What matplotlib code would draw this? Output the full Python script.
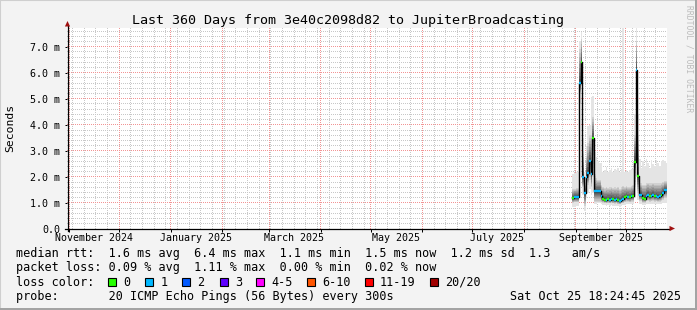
import matplotlib
matplotlib.use("Agg")
import matplotlib.pyplot as plt
import matplotlib.dates as mdates
from matplotlib.ticker import MultipleLocator
from matplotlib.patches import Rectangle, Polygon
from matplotlib.lines import Line2D
from matplotlib.colors import to_rgb
import numpy as np
from datetime import datetime, timedelta

plt.rcParams['font.family'] = ['DejaVu Sans Mono']

# ---------------- data ----------------
title = "Last 360 Days from 3e40c2098d82 to JupiterBroadcasting"
end_time = datetime(2025, 10, 25, 18, 24, 45)
span_days = 360
data_start = datetime(2025, 8, 30, 0, 0)   # first daily sample

median_ms = [1.20, 1.22, 1.22, 1.22, 5.60, 6.40, 2.00, 1.38, 2.00, 2.14,
             2.61, 2.10, 3.49, 1.44, 1.44, 1.44, 1.44, 1.25, 1.17, 1.12,
             1.10, 1.15, 1.13, 1.17, 1.14, 1.12, 1.15, 1.10, 1.08, 1.12,
             1.15, 1.22, 1.25, 1.23, 1.22, 1.25, 1.25, 2.57, 6.09, 2.02,
             1.32, 1.32, 1.18, 1.17, 1.27, 1.30, 1.25, 1.28, 1.30, 1.25,
             1.27, 1.24, 1.25, 1.30, 1.38, 1.50, 1.48]
smoke_min_ms = [0.85, 0.85, 0.88, 0.90, 4.80, 5.50, 1.30, 0.70, 1.20, 1.40,
                1.55, 1.30, 1.40, 0.95, 0.95, 0.98, 0.98, 0.95, 0.92, 0.92,
                0.90, 0.92, 0.90, 0.92, 0.90, 0.88, 0.90, 0.88, 0.86, 0.90,
                0.92, 0.92, 0.95, 0.95, 0.95, 0.95, 0.95, 1.20, 2.50, 1.10,
                0.95, 0.95, 0.92, 0.92, 0.95, 0.95, 0.95, 0.95, 0.95, 0.95,
                0.95, 0.95, 0.95, 0.95, 0.98, 1.00, 1.00]
smoke_p10_ms = [1.00, 1.02, 1.02, 1.02, 5.20, 5.90, 1.60, 0.90, 1.50, 1.70,
                1.90, 1.60, 2.00, 1.05, 1.05, 1.05, 1.05, 1.02, 1.00, 1.00,
                0.98, 1.00, 0.98, 1.00, 0.98, 0.97, 0.98, 0.96, 0.95, 0.98,
                1.00, 1.02, 1.05, 1.04, 1.03, 1.05, 1.05, 1.60, 3.50, 1.40,
                1.08, 1.08, 1.00, 1.00, 1.06, 1.08, 1.05, 1.06, 1.08, 1.05,
                1.06, 1.04, 1.05, 1.08, 1.12, 1.20, 1.20]
smoke_p90_ms = [1.55, 1.55, 1.58, 1.58, 6.90, 7.30, 3.00, 1.80, 2.80, 3.30,
                3.60, 3.60, 4.30, 2.10, 1.95, 1.90, 1.90, 1.70, 1.62, 1.58,
                1.62, 1.58, 1.60, 1.62, 1.58, 1.60, 1.58, 1.62, 1.55, 1.60,
                1.65, 1.62, 1.65, 1.62, 1.62, 1.65, 1.68, 3.60, 7.20, 3.60,
                1.75, 1.75, 1.70, 1.70, 1.75, 1.78, 1.75, 1.75, 1.78, 1.75,
                1.75, 1.75, 1.75, 1.78, 1.80, 1.85, 1.85]
smoke_max_ms = [2.10, 2.15, 2.20, 2.20, 7.20, 7.55, 3.50, 2.20, 3.20, 3.95,
                4.00, 5.05, 5.10, 2.95, 2.75, 2.60, 2.55, 2.55, 2.20, 2.25,
                2.38, 2.20, 2.25, 2.35, 2.20, 2.30, 2.25, 2.35, 2.20, 2.30,
                7.70, 2.20, 2.25, 2.20, 2.25, 2.30, 2.30, 4.40, 7.70, 4.40,
                2.70, 2.35, 2.60, 2.40, 2.70, 2.55, 2.35, 2.65, 2.50, 2.40,
                2.65, 2.55, 2.40, 2.60, 2.65, 2.60, 2.55]
loss_class = [0, 1, 1, 1, 1, 0, 1, 1, 1, 1,
              1, 1, 0, 1, 1, 1, 1, 1, 0, 0,
              1, 0, 1, 1, 0, 1, 1, 0, 1, 1,
              1, 0, 0, 1, 0, 1, 0, 0, 1, 0,
              1, 1, 0, 0, 1, 1, 0, 1, 1, 0,
              1, 1, 1, 0, 1, 1, 1]

y_ticks = [0, 1, 2, 3, 4, 5, 6, 7]
y_tick_labels = ["0.0", "1.0 m", "2.0 m", "3.0 m", "4.0 m", "5.0 m", "6.0 m", "7.0 m"]
y_max = 7.716
month_labels = [(datetime(2024, 11, 1), "November 2024"), (datetime(2025, 1, 1), "January 2025"),
                (datetime(2025, 3, 1), "March 2025"), (datetime(2025, 5, 1), "May 2025"),
                (datetime(2025, 7, 1), "July 2025"), (datetime(2025, 9, 1), "September 2025")]

loss_names = ["0", "1", "2", "3", "4-5", "6-10", "11-19", "20/20"]
loss_colors = ["#26ff00", "#00b8ff", "#0059ff", "#5e00ff", "#ff00ff", "#ff5500", "#ff0000", "#a10000"]

legend_rows = [
    "median rtt:  1.6 ms avg  6.4 ms max  1.1 ms min  1.5 ms now  1.2 ms sd  1.3   am/s",
    "packet loss: 0.09 % avg  1.11 % max  0.00 % min  0.02 % now",
    "loss color:",
    "probe:       20 ICMP Echo Pings (56 Bytes) every 300s",
]
stamp = "Sat Oct 25 18:24:45 2025"
watermark = "RRDTOOL / TOBI OETIKER"

# ---------------- figure ----------------
W, H = 697, 310
fig = plt.figure(figsize=(W / 100, H / 100), dpi=100, facecolor="#f3f3f3")

AX_L, AX_B, AX_W, AX_H = 67, 229, 600, 201   # px, y from top
ax = fig.add_axes([AX_L / W, 1 - AX_B / H, AX_W / W, AX_H / H])
ax.set_facecolor("white")
start_time = end_time - timedelta(days=span_days)
ax.set_xlim(start_time, end_time)
ax.set_ylim(0, y_max)

ax.xaxis.set_major_locator(mdates.MonthLocator())
ax.xaxis.set_minor_locator(mdates.WeekdayLocator(byweekday=mdates.SU))
ax.yaxis.set_major_locator(MultipleLocator(1.0))
ax.yaxis.set_minor_locator(MultipleLocator(0.2))
MINOR_C, MAJOR_C = "#c8c8c8", "#f29494"

ax.set_yticks(y_ticks)
ax.set_yticklabels(y_tick_labels)
ax.xaxis.set_major_formatter(plt.NullFormatter())
ax.tick_params(axis="both", which="major", length=1.8, width=0.72, color="#000000",
               direction="out", pad=3.3, labelsize=7.2)
ax.tick_params(axis="both", which="minor", length=0)
for s in ax.spines.values():
    s.set_visible(False)

# ---- dotted 1-px grid, positions from the locators through the axes transform ----
x0, x1 = ax.get_xlim()
maj_x = [v for v in ax.xaxis.get_majorticklocs() if x0 < v < x1]
min_x = [v for v in ax.xaxis.get_minorticklocs() if x0 < v < x1 and
         all(abs(v - m) > 1e-6 for m in maj_x)]
maj_y = [v for v in y_ticks if 0 < v < y_max]
min_y = [v for v in ax.yaxis.get_minorticklocs() if 0 < v < y_max and
         all(abs(v - m) > 1e-6 for m in maj_y)]

grid = np.zeros((AX_H, AX_W, 4))
def col_of(v):
    xd = ax.transData.transform((v, 0))[0]
    return int(np.floor(xd)) - AX_L
def row_of(v):
    yd = ax.transData.transform((x0, v))[1]
    return int(np.floor(H - yd)) - (AX_B - AX_H)

def put_v(c, color):
    if 0 <= c < AX_W:
        grid[0::2, c, :3] = to_rgb(color)
        grid[0::2, c, 3] = 1
def put_h(r, color):
    if 0 <= r < AX_H:
        grid[r, 0::2, :3] = to_rgb(color)
        grid[r, 0::2, 3] = 1

for v in min_x:
    put_v(col_of(v), MINOR_C)
for v in min_y:
    put_h(row_of(v), MINOR_C)
for v in maj_x:
    put_v(col_of(v), MAJOR_C)
for v in maj_y:
    put_h(row_of(v), MAJOR_C)

ax.imshow(grid, extent=(0, 1, 0, 1), transform=ax.transAxes, interpolation="nearest",
          aspect="auto", zorder=1)
ax.set_xlim(start_time, end_time)
ax.set_ylim(0, y_max)

for d, lab in month_labels:
    ax.text(d + timedelta(days=15), -(240.7 - AX_B) / AX_H, lab, transform=ax.get_xaxis_transform(),
            ha="center", va="baseline", fontsize=7.2, color="#000000")

# smoke
n = len(median_ms)
edges = [data_start + timedelta(days=i) for i in range(n + 1)]
med = np.array(median_ms)
mn = np.array(smoke_min_ms)
p10 = np.array(smoke_p10_ms)
p90 = np.array(smoke_p90_ms)
mx = np.array(smoke_max_ms)

def ext(a):
    return np.append(a, a[-1])

ax.fill_between(edges, ext(mn), ext(mx), step="post", color="#e4e4e4", lw=0, zorder=2)
N = 9
for k in range(N, 0, -1):
    f = k / N
    lo = med - (med - p10) * f
    hi = med + (p90 - med) * f
    g = 0.30 + 0.52 * (k - 1) / (N - 1)
    ax.fill_between(edges, ext(lo), ext(hi), step="post", color=(g, g, g), lw=0, zorder=2)

# median
ax.step(edges, ext(med), where="post", color="black", lw=1.0, zorder=4)
for i in range(n):
    ax.plot([edges[i], edges[i + 1]], [med[i], med[i]], color=loss_colors[loss_class[i]],
            lw=1.7, solid_capstyle="butt", zorder=5)

# axes lines + arrows (in axes fraction)
def af(px, py):
    return ((px - AX_L) / AX_W, (AX_B - py) / AX_H)

for (p0, p1) in [((AX_L + 0.5, AX_B + 2), (AX_L + 0.5, 26)), ((AX_L - 2, AX_B - 0.5), (670, AX_B - 0.5))]:
    a0, a1 = af(*p0), af(*p1)
    ax.add_line(Line2D([a0[0], a1[0]], [a0[1], a1[1]], transform=ax.transAxes, color="#000000",
                       lw=0.9, clip_on=False, zorder=6))
ax.add_patch(Polygon([af(AX_L + 0.5, 21.0), af(AX_L - 2.1, 26.5), af(AX_L + 3.1, 26.5)], closed=True,
                     transform=ax.transAxes, color="#a01010", clip_on=False, zorder=7, lw=0))
ax.add_patch(Polygon([af(675, AX_B - 0.5), af(669.5, AX_B - 3.1), af(669.5, AX_B + 2.1)], closed=True,
                     transform=ax.transAxes, color="#a01010", clip_on=False, zorder=7, lw=0))

# texts
def ftext(x, y, s, **kw):
    return fig.text(x / W, 1 - y / H, s, **kw)

ftext(347.8, 24.0, title, ha="center", va="baseline", fontsize=9.6, color="#000000")
ftext(10.0, 127.5, "Seconds", ha="center", va="center", rotation=90, fontsize=8.2, color="#000000")
ftext(688.5, 5, watermark, ha="center", va="top", rotation=-90, fontsize=5.8, color="#bcbcbc")

rows_y = [257.3, 271.5, 285.7, 299.9]
for s, yb in zip(legend_rows, rows_y):
    ftext(16, yb, s, ha="left", va="baseline", fontsize=8.5, color="#000000")
ftext(680.5, rows_y[3], stamp, ha="right", va="baseline", fontsize=8.5, color="#000000")

box_x = [108.4, 145.3, 182.2, 219.6, 256.4, 307.1, 364.9, 430.2]
for bx, name, col in zip(box_x, loss_names, loss_colors):
    fig.patches.append(Rectangle((bx / W, 1 - 286.0 / H), 8 / W, 8 / H, transform=fig.transFigure,
                                 facecolor=col, edgecolor="#000000", lw=0.8))
    ftext(bx + 15.2, rows_y[2], name, ha="left", va="baseline", fontsize=8.5, color="#000000")

# frame
fig.patches.append(Rectangle((0, 0), 1, 1, transform=fig.transFigure, fill=False,
                             edgecolor="#cfcfcf", lw=1.5))
fig.patches.append(Rectangle((0, 0), 1, 2.5 / H, transform=fig.transFigure, facecolor="#a3a3a3", lw=0))
fig.patches.append(Rectangle((1 - 2.5 / W, 0), 2.5 / W, 1, transform=fig.transFigure, facecolor="#a3a3a3", lw=0))

fig.savefig("out.png", dpi=100, facecolor=fig.get_facecolor())
